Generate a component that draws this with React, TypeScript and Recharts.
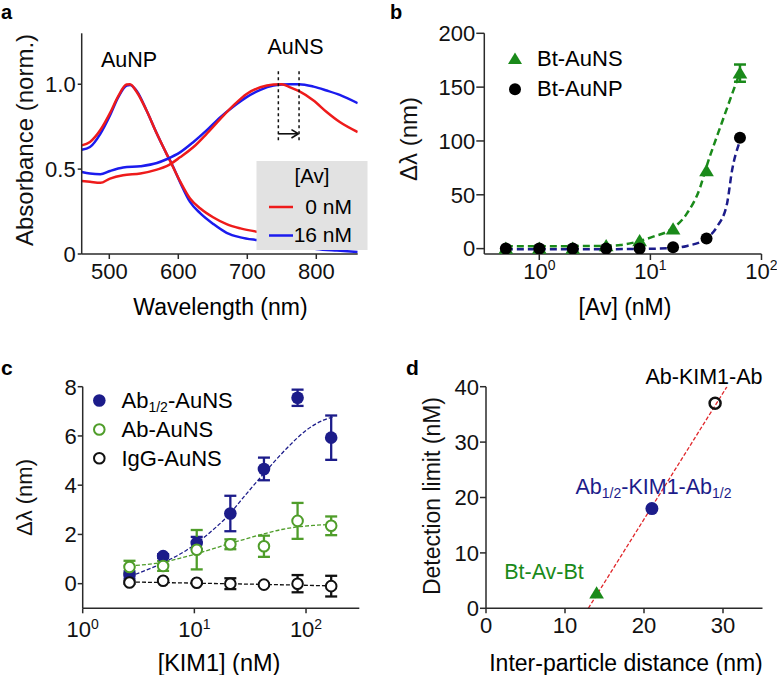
import React from 'react';
import {
  ComposedChart,
  Line,
  Scatter,
  XAxis,
  YAxis,
  ErrorBar,
  ReferenceLine,
} from 'recharts';

const FONT = '"Liberation Sans", Arial, sans-serif';

// panel a: normalised absorbance spectra
const wavelengthNP = [460, 472, 487, 501, 513, 525, 530, 540, 554, 569, 583, 590, 603, 617, 632, 651, 670, 690, 714, 740, 770, 800, 830, 860];
const absNP0 = [0.64, 0.66, 0.73, 0.83, 0.93, 0.998, 1.0, 0.953, 0.845, 0.708, 0.59, 0.532, 0.425, 0.327, 0.268, 0.215, 0.176, 0.151, 0.131, 0.115, 0.1, 0.085, 0.075, 0.065];
const absNP16 = [0.614, 0.63, 0.708, 0.816, 0.924, 0.992, 0.996, 0.959, 0.845, 0.708, 0.59, 0.536, 0.419, 0.307, 0.239, 0.176, 0.125, 0.098, 0.082, 0.07, 0.05, 0.03, 0.02, 0.012];
const wavelengthNS = [460, 472, 487, 501, 520, 545, 569, 583, 603, 622, 641, 661, 680, 699, 719, 738, 750, 762, 775, 796, 815, 834, 860];
const absNS0 = [0.43, 0.425, 0.419, 0.444, 0.464, 0.474, 0.497, 0.517, 0.571, 0.63, 0.708, 0.796, 0.875, 0.943, 0.982, 0.998, 1.0, 0.982, 0.959, 0.904, 0.836, 0.777, 0.718];
const absNS16 = [0.483, 0.474, 0.47, 0.489, 0.509, 0.517, 0.536, 0.558, 0.6, 0.66, 0.728, 0.806, 0.869, 0.924, 0.967, 0.992, 0.998, 1.0, 1.0, 0.986, 0.963, 0.937, 0.888];
const absTicks = [0, 0.5, 1.0];
const wavelengthTicks = [500, 600, 700, 800];

// panel b: shift vs avidin
const avConc = [0.5, 1, 2, 4, 8, 16, 32, 64];
const shiftBtAuNS = [0, 0, 0, 2.5, 7, 18, 72, 163];
const shiftBtAuNSErr = [0, 0, 0, 0, 0, 0, 0, 8];
const shiftBtAuNP = [0, 0, 0, 0, 0, 1.2, 9.5, 103];
const fitAuNSConc = [0.5, 1, 2, 4, 5.4, 7.85, 10.6, 15.1, 21.4, 28.2, 31.3, 44.2, 62.6];
const fitAuNS = [2.2, 2.2, 2.3, 2.6, 3.4, 6.8, 11.1, 17.4, 32.9, 57.6, 73.1, 117.6, 161];
const fitAuNPConc = [0.5, 1, 2, 4, 8, 16, 21.4, 32, 39.8, 49, 54.4, 63];
const fitAuNP = [-0.5, -0.5, -0.5, -0.5, -0.3, 0.5, 2.5, 9.6, 20.4, 42, 73, 98];
const shiftTicks = [0, 50, 100, 150, 200];
const logTicksB = [1, 10, 100];

// panel c: shift vs KIM1
const kimConc = [2.625, 5.25, 10.5, 21, 42, 84, 168];
const shiftAbHalf = [0.35, 1.12, 1.65, 2.85, 4.66, 7.55, 5.93];
const shiftAbHalfErr = [0.15, 0.08, 0.25, 0.72, 0.46, 0.33, 0.9];
const shiftAb = [0.68, 0.72, 1.38, 1.6, 1.52, 2.55, 2.35];
const shiftAbErr = [0.25, 0.2, 0.8, 0.2, 0.43, 0.73, 0.38];
const shiftIgG = [0.05, 0.12, 0.04, 0, -0.04, 0, -0.1];
const shiftIgGErr = [0.05, 0.05, 0.05, 0.22, 0.05, 0.35, 0.42];
const fitAbHalfConc = [2.65, 4, 5.65, 8.5, 12.9, 19.5, 29.4, 44.5, 67, 101, 143, 176];
const fitAbHalf = [0.3, 0.61, 0.92, 1.36, 1.97, 2.71, 3.66, 4.61, 5.49, 6.24, 6.64, 6.78];
const fitAbConc = [2.65, 5.3, 7.4, 10.5, 14.8, 21.3, 29.5, 42.4, 60.6, 85.4, 120, 169];
const fitAb = [0.72, 0.88, 1.03, 1.22, 1.42, 1.65, 1.83, 2.03, 2.2, 2.31, 2.37, 2.41];
const fitIgGConc = [2.65, 10.5, 42.4, 169];
const fitIgG = [0.07, 0.02, -0.03, -0.09];
const kimShiftTicks = [0, 2, 4, 6, 8];
const logTicksC = [1, 10, 100];

// panel d: detection limit vs distance
const distance = [14, 21, 29];
const detectionLimit = [2.7, 18, 37];
const fitDistance = [12.95, 30.5];
const fitLimit = [0, 40];
const distanceTicks = [0, 10, 20, 30];
const limitTicks = [0, 10, 20, 30, 40];

const RED = '#ee1b1b';
const BLUE = '#1b1bee';
const GREEN = '#1a8a1a';
const NAVY = '#1c1c8a';
const OLIVE = '#4f9d2a';
const AXIS = '#2a2a2a';

const pts = (xs: number[], ys: number[], es?: number[]) =>
  xs.map((x, i) => ({ x, y: ys[i], e: es ? es[i] : 0 }));

const tickText = { fontSize: 22, fill: '#111' };
const axisLine = { stroke: AXIS, strokeWidth: 1.5 };

function PowTick(props: any) {
  const { x, y, payload } = props;
  const exp = Math.round(Math.log10(payload.value));
  return (
    <text x={x} y={y} textAnchor="middle" fontSize={22} fill="#111">
      <tspan dy="0.71em">10</tspan>
      <tspan dy="-0.6em" fontSize={14}>{exp}</tspan>
    </text>
  );
}

const triangle = (color: string, s: number) => (props: any) => {
  const { cx, cy } = props;
  return (
    <polygon
      points={`${cx},${cy - s} ${cx - s * 1.05},${cy + s * 0.75} ${cx + s * 1.05},${cy + s * 0.75}`}
      fill={color}
    />
  );
};

const dot = (fill: string, r: number, stroke = 'none', sw = 0) => (props: any) => {
  const { cx, cy } = props;
  return <circle cx={cx} cy={cy} r={r} fill={fill} stroke={stroke} strokeWidth={sw} />;
};

function VTitle({ x, y, size, children }: any) {
  return (
    <text x={x} y={y} fontSize={size} textAnchor="middle" transform={`rotate(-90 ${x} ${y})`} fill="#111">
      {children}
    </text>
  );
}

function Overlay() {
  return (
    <svg width={777} height={675} style={{ position: 'absolute', left: 0, top: 0, pointerEvents: 'none' }}>
      {/* panel letters */}
      <text x={1} y={19} fontSize={20} fontWeight="bold">a</text>
      <text x={390} y={19} fontSize={20} fontWeight="bold">b</text>
      <text x={1} y={375} fontSize={21} fontWeight="bold">c</text>
      <text x={406} y={375} fontSize={21} fontWeight="bold">d</text>

      {/* panel a */}
      <text x={129} y={66.5} fontSize={21.5} textAnchor="middle">AuNP</text>
      <text x={295.5} y={53.5} fontSize={21.5} textAnchor="middle">AuNS</text>
      <rect x={256.5} y={161} width={111} height={89} fill="#e2e2e2" />
      <text x={312} y={182.5} fontSize={20.5} textAnchor="middle">[Av]</text>
      <line x1={269} x2={293} y1={207} y2={207} stroke={RED} strokeWidth={2.5} />
      <text x={352} y={213.5} fontSize={21} textAnchor="end">0 nM</text>
      <line x1={269} x2={293} y1={235.5} y2={235.5} stroke={BLUE} strokeWidth={2.5} />
      <text x={352} y={242} fontSize={21} textAnchor="end">16 nM</text>
      <text x={220.5} y={315} fontSize={23} textAnchor="middle">Wavelength (nm)</text>
      <VTitle x={33} y={140} size={24}>Absorbance (norm.)</VTitle>

      {/* panel b */}
      <polygon points="515,52.5 508,64 522,64" fill={GREEN} />
      <text x={537} y={66} fontSize={22}>Bt-AuNS</text>
      <circle cx={515} cy={89.3} r={6} fill="#000" />
      <text x={537} y={96} fontSize={22}>Bt-AuNP</text>
      <text x={625} y={315} fontSize={23} textAnchor="middle">[Av] (nM)</text>
      <VTitle x={417} y={139} size={24}>Δλ (nm)</VTitle>

      {/* panel c */}
      <circle cx={99.3} cy={400.5} r={6.3} fill={NAVY} />
      <text x={121.5} y={408} fontSize={22}>
        Ab<tspan fontSize={14} dy={4}>1/2</tspan><tspan dy={-4}>-AuNS</tspan>
      </text>
      <circle cx={99.3} cy={429.5} r={5.3} fill="none" stroke={OLIVE} strokeWidth={2} />
      <text x={121.5} y={437} fontSize={22}>Ab-AuNS</text>
      <circle cx={99.3} cy={458.3} r={5.3} fill="none" stroke="#111" strokeWidth={2} />
      <text x={121.5} y={466} fontSize={22}>IgG-AuNS</text>
      <text x={219} y={670.5} fontSize={23.5} textAnchor="middle">[KIM1] (nM)</text>
      <VTitle x={32} y={497.5} size={22}>Δλ (nm)</VTitle>

      {/* panel d */}
      <text x={704} y={383.5} fontSize={21.5} textAnchor="middle">Ab-KIM1-Ab</text>
      <text x={653.5} y={493.5} fontSize={21.5} textAnchor="middle" fill={NAVY}>
        Ab<tspan fontSize={14} dy={4}>1/2</tspan><tspan dy={-4}>-KIM1-Ab</tspan><tspan fontSize={14} dy={4}>1/2</tspan>
      </text>
      <text x={544} y={578.5} fontSize={21.5} textAnchor="middle" fill={GREEN}>Bt-Av-Bt</text>
      <text x={626} y={670.5} fontSize={23} textAnchor="middle">Inter-particle distance (nm)</text>
      <VTitle x={440} y={496} size={23}>Detection limit (nM)</VTitle>
    </svg>
  );
}

function PanelA() {
  return (
    <ComposedChart width={390} height={330} margin={{ top: 33.3, right: 32.3, left: 21.7, bottom: 36 }}>
      <XAxis
        dataKey="x"
        type="number"
        domain={[460, 860]}
        ticks={wavelengthTicks}
        allowDataOverflow
        height={40}
        tick={tickText}
        axisLine={axisLine}
        tickLine={axisLine}
        tickSize={5}
        tickMargin={4}
      />
      <YAxis
        dataKey="y"
        type="number"
        domain={[0, 1.3]}
        ticks={absTicks}
        allowDataOverflow
        width={60}
        tick={tickText}
        axisLine={axisLine}
        tickLine={axisLine}
        tickSize={4}
        tickMargin={2}
        tickFormatter={(v: number) => (v === 0 ? '0' : v.toFixed(1))}
      />
      <Line data={pts(wavelengthNP, absNP16)} dataKey="y" type="monotone" stroke={BLUE} strokeWidth={2.5} dot={false} isAnimationActive={false} />
      <Line data={pts(wavelengthNP, absNP0)} dataKey="y" type="monotone" stroke={RED} strokeWidth={2.5} dot={false} isAnimationActive={false} />
      <Line data={pts(wavelengthNS, absNS16)} dataKey="y" type="monotone" stroke={BLUE} strokeWidth={2.5} dot={false} isAnimationActive={false} />
      <Line data={pts(wavelengthNS, absNS0)} dataKey="y" type="monotone" stroke={RED} strokeWidth={2.5} dot={false} isAnimationActive={false} />
      <ReferenceLine segment={[{ x: 745, y: 0.67 }, { x: 745, y: 1.09 }]} stroke="#111" strokeWidth={1.5} strokeDasharray="3 3" ifOverflow="visible" />
      <ReferenceLine segment={[{ x: 775, y: 0.67 }, { x: 775, y: 1.09 }]} stroke="#111" strokeWidth={1.5} strokeDasharray="3 3" ifOverflow="visible" />
      <ReferenceLine segment={[{ x: 745, y: 0.708 }, { x: 774, y: 0.708 }]} stroke="#111" strokeWidth={1.6} ifOverflow="visible" />
      <ReferenceLine segment={[{ x: 764, y: 0.733 }, { x: 774, y: 0.708 }]} stroke="#111" strokeWidth={1.6} ifOverflow="visible" />
      <ReferenceLine segment={[{ x: 764, y: 0.683 }, { x: 774, y: 0.708 }]} stroke="#111" strokeWidth={1.6} ifOverflow="visible" />
    </ComposedChart>
  );
}

function PanelB() {
  return (
    <ComposedChart width={387} height={330} margin={{ top: 33.3, right: 15.5, left: 34.3, bottom: 36 }}>
      <XAxis
        dataKey="x"
        type="number"
        scale="log"
        domain={[0.32, 100]}
        ticks={logTicksB}
        allowDataOverflow
        height={40}
        tick={<PowTick />}
        axisLine={axisLine}
        tickLine={axisLine}
        tickSize={6}
        tickMargin={3}
      />
      <YAxis
        dataKey="y"
        type="number"
        domain={[-5, 200]}
        ticks={shiftTicks}
        allowDataOverflow
        width={60}
        tick={tickText}
        axisLine={axisLine}
        tickLine={axisLine}
        tickSize={8}
        tickMargin={1}
      />
      <Line data={pts(fitAuNSConc, fitAuNS)} dataKey="y" type="monotone" stroke={GREEN} strokeWidth={2.5} strokeDasharray="7 4" dot={false} isAnimationActive={false} />
      <Scatter data={pts(avConc, shiftBtAuNS, shiftBtAuNSErr)} dataKey="y" shape={triangle(GREEN, 7)} isAnimationActive={false}>
        <ErrorBar dataKey="e" direction="y" width={6} stroke={GREEN} strokeWidth={2.5} />
      </Scatter>
      <Line data={pts(fitAuNPConc, fitAuNP)} dataKey="y" type="monotone" stroke={NAVY} strokeWidth={2.5} strokeDasharray="7 4" dot={false} isAnimationActive={false} />
      <Scatter data={pts(avConc, shiftBtAuNP)} dataKey="y" shape={dot('#000', 6)} isAnimationActive={false} />
    </ComposedChart>
  );
}

function PanelC() {
  return (
    <ComposedChart width={390} height={345} margin={{ top: 56.7, right: 30.7, left: 22.7, bottom: 26.7 }}>
      <XAxis
        dataKey="x"
        type="number"
        scale="log"
        domain={[1, 300]}
        ticks={logTicksC}
        allowDataOverflow
        height={40}
        tick={<PowTick />}
        axisLine={axisLine}
        tickLine={axisLine}
        tickSize={5}
        tickMargin={8}
      />
      <YAxis
        dataKey="y"
        type="number"
        domain={[-1, 8]}
        ticks={kimShiftTicks}
        allowDataOverflow
        width={60}
        tick={tickText}
        axisLine={axisLine}
        tickLine={axisLine}
        tickSize={5}
        tickMargin={1}
      />
      <Line data={pts(fitIgGConc, fitIgG)} dataKey="y" type="monotone" stroke="#111" strokeWidth={1.3} strokeDasharray="4 2" dot={false} isAnimationActive={false} />
      <Line data={pts(fitAbConc, fitAb)} dataKey="y" type="monotone" stroke={OLIVE} strokeWidth={1.3} strokeDasharray="4 2" dot={false} isAnimationActive={false} />
      <Line data={pts(fitAbHalfConc, fitAbHalf)} dataKey="y" type="monotone" stroke={NAVY} strokeWidth={1.3} strokeDasharray="4 2" dot={false} isAnimationActive={false} />
      <Scatter data={pts(kimConc, shiftAbHalf, shiftAbHalfErr)} dataKey="y" shape={dot(NAVY, 6.3)} isAnimationActive={false}>
        <ErrorBar dataKey="e" direction="y" width={6} stroke={NAVY} strokeWidth={2.3} />
      </Scatter>
      <Scatter data={pts(kimConc, shiftAb, shiftAbErr)} dataKey="y" shape={dot('#fff', 5.3, OLIVE, 2)} isAnimationActive={false}>
        <ErrorBar dataKey="e" direction="y" width={6} stroke={OLIVE} strokeWidth={2.3} />
      </Scatter>
      <Scatter data={pts(kimConc, shiftIgG, shiftIgGErr)} dataKey="y" shape={dot('#fff', 5.3, '#111', 2)} isAnimationActive={false}>
        <ErrorBar dataKey="e" direction="y" width={6} stroke="#111" strokeWidth={2.3} />
      </Scatter>
    </ComposedChart>
  );
}

function PanelD() {
  const data = pts(distance, detectionLimit);
  return (
    <ComposedChart width={387} height={345} margin={{ top: 56.7, right: 14.5, left: 36, bottom: 26.7 }}>
      <XAxis
        dataKey="x"
        type="number"
        domain={[0, 35]}
        ticks={distanceTicks}
        allowDataOverflow
        height={40}
        tick={tickText}
        axisLine={axisLine}
        tickLine={axisLine}
        tickSize={5}
        tickMargin={4}
      />
      <YAxis
        dataKey="y"
        type="number"
        domain={[0, 40]}
        ticks={limitTicks}
        allowDataOverflow
        width={60}
        tick={tickText}
        axisLine={axisLine}
        tickLine={axisLine}
        tickSize={6}
        tickMargin={1}
      />
      <Line data={pts(fitDistance, fitLimit)} dataKey="y" type="linear" stroke="#e0282c" strokeWidth={1.3} strokeDasharray="4 2" dot={false} isAnimationActive={false} />
      <Scatter data={data.slice(0, 1)} dataKey="y" shape={triangle(GREEN, 7)} isAnimationActive={false} />
      <Scatter data={data.slice(1, 2)} dataKey="y" shape={dot(NAVY, 6.5)} isAnimationActive={false} />
      <Scatter data={data.slice(2, 3)} dataKey="y" shape={dot('none', 5.5, '#111', 2.5)} isAnimationActive={false} />
    </ComposedChart>
  );
}

export default function App() {
  return (
    <div style={{ position: 'absolute', left: 0, top: 0, width: 777, height: 675, background: '#fff', fontFamily: FONT, color: '#111' }}>
      <div style={{ position: 'absolute', left: 0, top: 0 }}>
        <PanelA />
      </div>
      <div style={{ position: 'absolute', left: 390, top: 0 }}>
        <PanelB />
      </div>
      <div style={{ position: 'absolute', left: 0, top: 330 }}>
        <PanelC />
      </div>
      <div style={{ position: 'absolute', left: 390, top: 330 }}>
        <PanelD />
      </div>
      <Overlay />
    </div>
  );
}
